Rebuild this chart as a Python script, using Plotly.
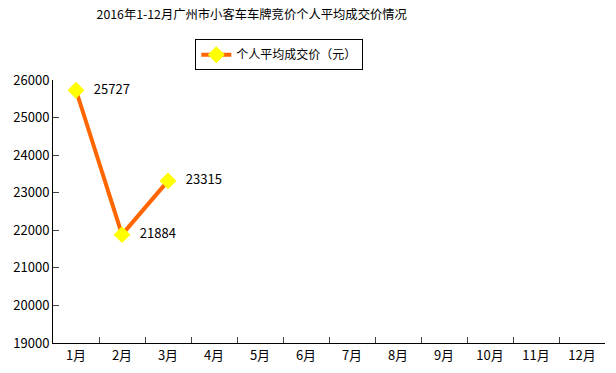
import plotly.graph_objects as go

months = ["1月", "2月", "3月", "4月", "5月", "6月", "7月", "8月", "9月", "10月", "11月", "12月"]
values = [25727, 21884, 23315]
series_name = "个人平均成交价（元）"
title = "2016年1-12月广州市小客车车牌竞价个人平均成交价情况"

font = "Noto Sans CJK SC"

fig = go.Figure()
fig.add_trace(go.Scatter(
    x=months[:len(values)], y=values, name=series_name,
    mode="lines+markers+text",
    line=dict(color="#FF6600", width=4),
    marker=dict(symbol="diamond", size=13, color="#FFFF00", line=dict(width=0)),
    text=["   " + str(v) for v in values],
    textposition="middle right",
    textfont=dict(family=font, size=13, color="black"),
    cliponaxis=False,
))
fig.update_layout(
    width=616, height=373,
    margin=dict(l=53, r=11, t=80, b=30, autoexpand=False),
    paper_bgcolor="white", plot_bgcolor="white",
    font=dict(family=font, size=13, color="black"),
    title=dict(text=title, x=0.36, xanchor="center", xref="paper", yref="container",
               y=0.96, yanchor="middle", automargin=False,
               font=dict(family=font, size=12.3, color="black")),
    showlegend=True,
    legend=dict(orientation="h", x=0.41, xanchor="center", y=1.155, yanchor="top",
                bordercolor="black", borderwidth=1, bgcolor="white",
                itemwidth=30,
                font=dict(family=font, size=12)),
    xaxis=dict(type="category", categoryorder="array", categoryarray=months,
               range=[-0.5, 11.5], tickson="boundaries", ticks="inside", ticklen=6,
               showline=True, linecolor="black", linewidth=1, showgrid=False,
               automargin=False,
               tickfont=dict(family=font, size=13), zeroline=False),
    yaxis=dict(range=[19000, 26000], dtick=1000, ticks="inside", ticklen=6,
               showline=True, linecolor="black", linewidth=1, showgrid=False,
               tickformat="d", zeroline=False, automargin=False,
               tickfont=dict(family=font, size=13)),
)
fig.write_html("out.html", config={"displayModeBar": False},
               post_script="document.body.style.margin='0';")
